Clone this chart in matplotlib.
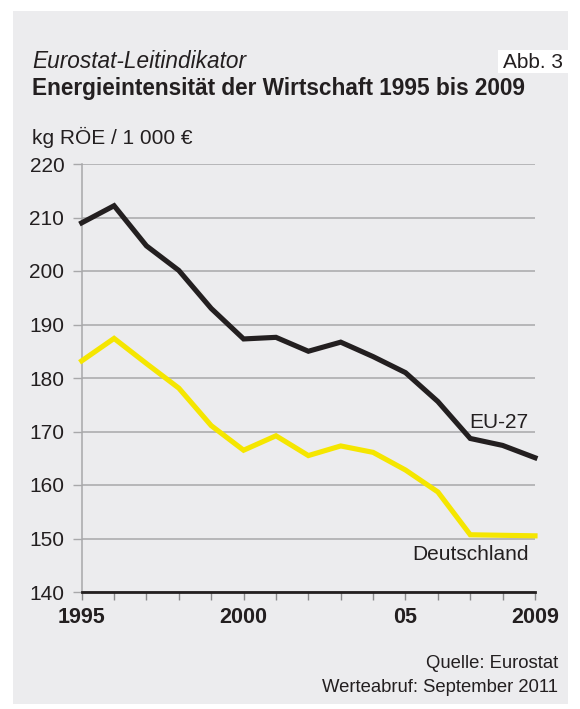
import numpy as np
import matplotlib.pyplot as plt
from matplotlib.patches import Rectangle

plt.rcParams['font.family'] = ['Liberation Sans', 'DejaVu Sans']

years = list(range(1995, 2010))
eu27 = [209.0, 212.2, 204.7, 200.1, 193.0, 187.3, 187.6, 185.0, 186.7, 184.0,
        181.0, 175.6, 168.7, 167.4, 165.1]
deutschland = [183.2, 187.4, 182.7, 178.1, 171.1, 166.5, 169.2, 165.5, 167.3, 166.1,
               162.8, 158.7, 150.7, 150.6, 150.5]
yticks = [140, 150, 160, 170, 180, 190, 200, 210, 220]
xtick_pos = [1995, 2000, 2005, 2009]
xtick_lab = ['1995', '2000', '05', '2009']

W, H = 580, 709
bg = '#ececee'
ink = '#231f20'
fig = plt.figure(figsize=(W / 100, H / 100), dpi=100)
fig.patch.set_facecolor('white')
fig.patches.append(Rectangle((13 / W, 1 - 704 / H), 555 / W, 693 / H,
                             transform=fig.transFigure, facecolor=bg, edgecolor='none', zorder=0))
fig.patches.append(Rectangle((498 / W, 1 - 73 / H), 70 / W, 23 / H,
                             transform=fig.transFigure, facecolor='white', edgecolor='none', zorder=1))

ax = fig.add_axes([81.7 / W, 1 - 592 / H, (535 - 81.7) / W, (592 - 164) / H])
ax.set_zorder(5)
ax.set_facecolor('none')

ax.plot(years, eu27, color=ink, lw=3.7, solid_joinstyle='miter', zorder=3, clip_on=False)
ax.plot(years, deutschland, color='#f5e600', lw=3.7, solid_joinstyle='miter', zorder=3, clip_on=False)

ax.set_xlim(1995, 2009)
ax.set_ylim(140, 220)
ax.set_yticks(yticks)
ax.set_yticklabels([str(v) for v in yticks], fontsize=15, color=ink)
ax.yaxis.grid(True, color='#a8a8aa', lw=1.1)
ax.set_axisbelow(True)
ax.tick_params(axis='y', length=6.5, width=1, color='#a8a8aa', pad=6)

ax.set_xticks(years, minor=True)
ax.set_xticks(xtick_pos)
ax.set_xticklabels(xtick_lab, fontsize=15.5, fontweight='bold', color=ink)
ax.tick_params(axis='x', which='both', length=6, width=1, color='#8a8a8c', pad=5)

for s in ['top', 'right']:
    ax.spines[s].set_visible(False)
ax.spines['left'].set_color('#a8a8aa')
ax.spines['left'].set_linewidth(1.1)
ax.spines['bottom'].set_color(ink)
ax.spines['bottom'].set_linewidth(2)
ax.spines['bottom'].set_zorder(4)

ax.text(2008.8, 171.7, 'EU-27', fontsize=15, color=ink, ha='right', va='center')
ax.text(2008.8, 147.0, 'Deutschland', fontsize=15, color=ink, ha='right', va='center')

fig.text(32 / W, 1 - 62 / H, 'Eurostat-Leitindikator', fontsize=16.3, style='italic',
         color=ink, va='center')
fig.text(32 / W, 1 - 88 / H, 'Energieintensität der Wirtschaft 1995 bis 2009', fontsize=16.3,
         fontweight='bold', color=ink, va='center')
fig.text(563 / W, 1 - 62 / H, 'Abb. 3', fontsize=15, color=ink, ha='right', va='center', zorder=2)
fig.text(32 / W, 1 - 137 / H, 'kg RÖE / 1 000 €', fontsize=15, color=ink, va='center')
fig.text(558 / W, 1 - 664 / H, 'Quelle: Eurostat', fontsize=13.3, color=ink, ha='right', va='center')
fig.text(558 / W, 1 - 687 / H, 'Werteabruf: September 2011', fontsize=13.3, color=ink,
         ha='right', va='center')

fig.savefig('out.png', dpi=100, facecolor=fig.get_facecolor())
